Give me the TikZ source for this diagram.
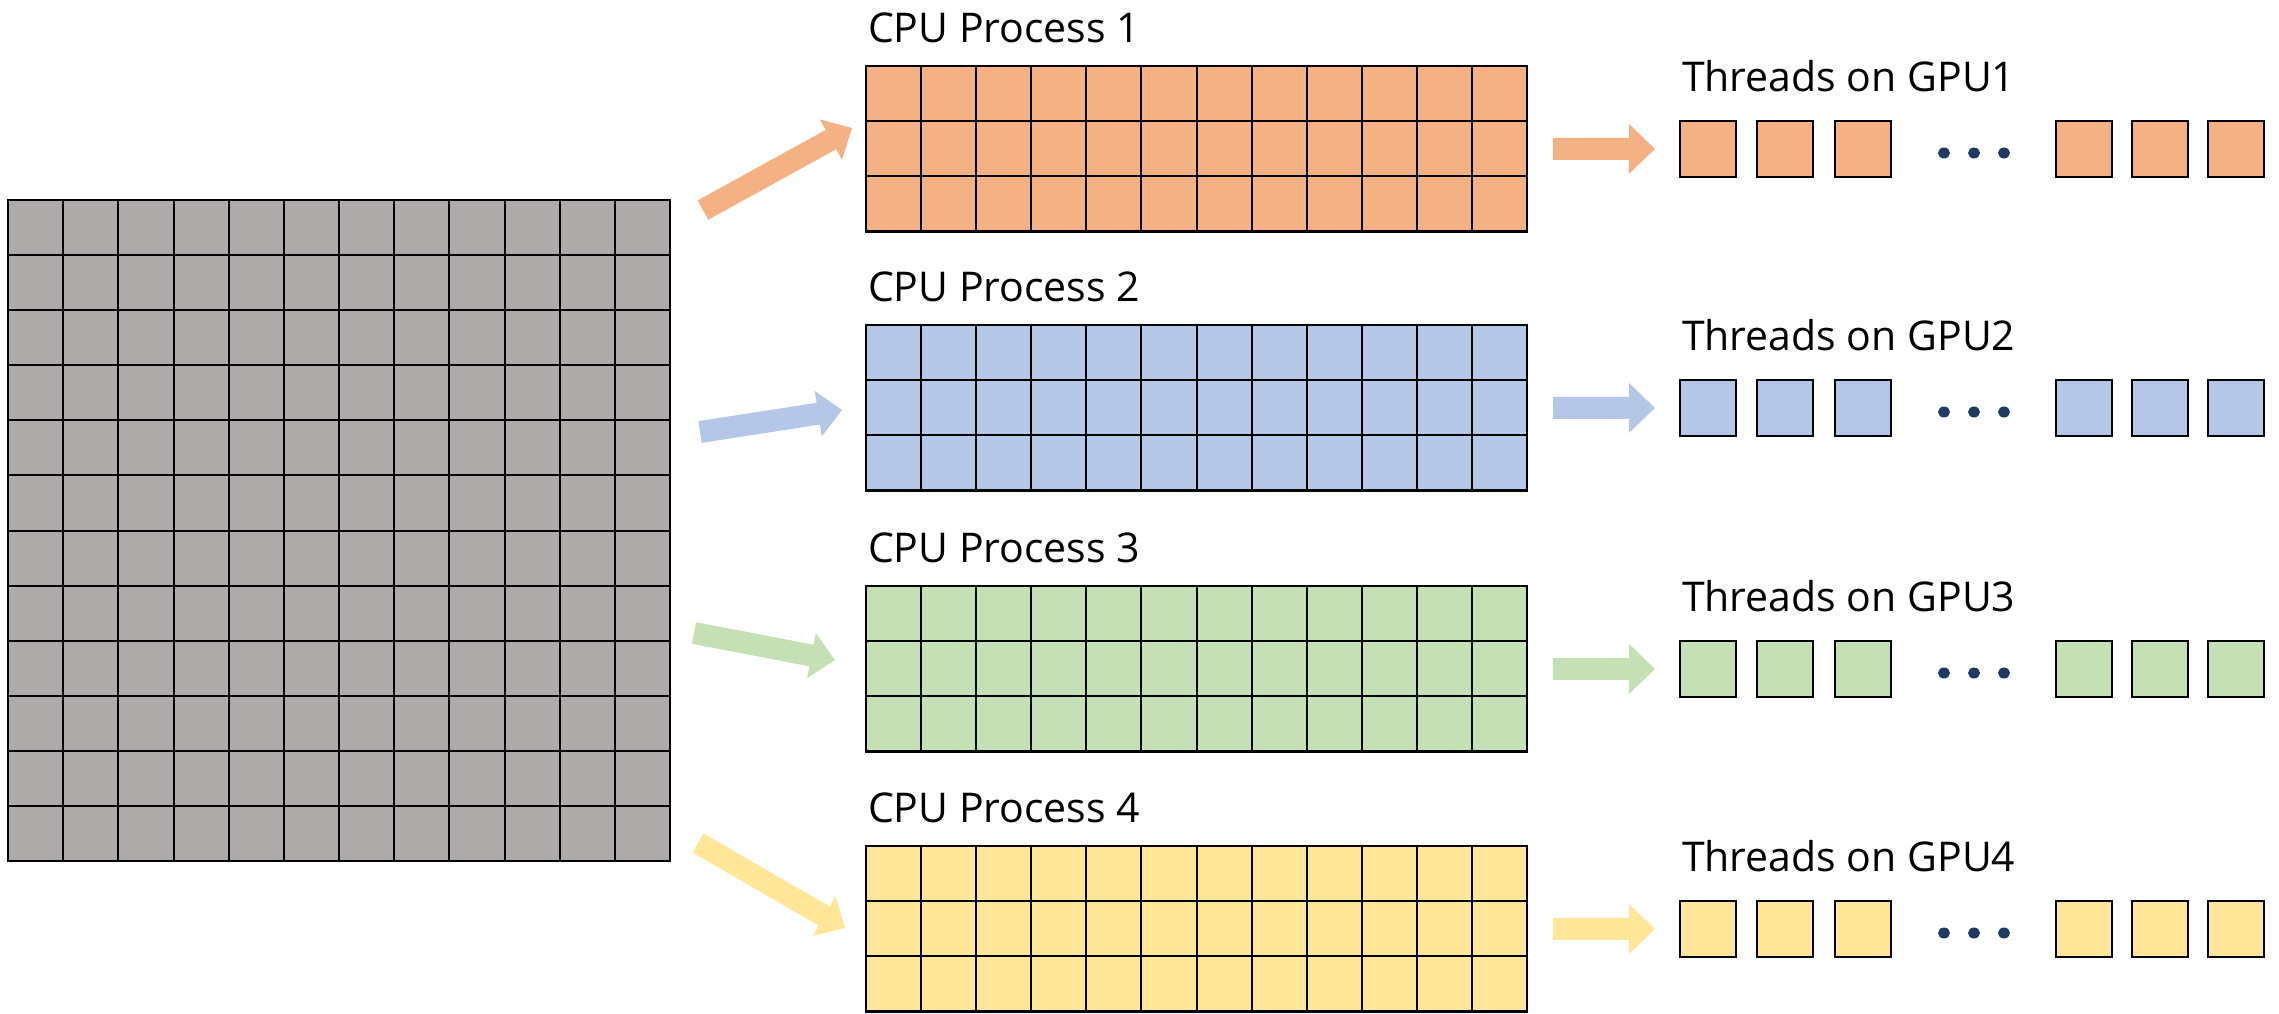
\documentclass[tikz,border=0pt]{standalone}
\usepackage{fontspec}
\setmainfont{Open Sans}
\usetikzlibrary{calc}

\definecolor{cellgray}{HTML}{AEAAAA}
\definecolor{procorange}{HTML}{F4B183}
\definecolor{procblue}{HTML}{B4C7E7}
\definecolor{procgreen}{HTML}{C5E0B4}
\definecolor{procyellow}{HTML}{FFE699}
\definecolor{dotnavy}{HTML}{1F3864}

\tikzset{
  gridline/.style={draw=black, line width=2pt},
  lbl/.style={anchor=base west, inner sep=0pt, outer sep=0pt,
              font=\fontsize{41}{49}\selectfont},
  blockbox/.style={draw=black, line width=2.4pt, inner sep=0pt, outer sep=0pt,
                   anchor=north west},
  thread/.style={draw=black, line width=2pt, minimum size=56pt,
                 inner sep=0pt, outer sep=0pt, anchor=north west},
}

% inner cell lines of a block node: #1 node, #2 columns, #3 rows
\newcommand{\cellgrid}[3]{%
  \pgfmathtruncatemacro{\colsm}{#2-1}%
  \pgfmathtruncatemacro{\rowsm}{#3-1}%
  \foreach \i in {1,...,\colsm}
    \draw[gridline] ($(#1.north west)!\i/#2!(#1.north east)$) --
                    ($(#1.south west)!\i/#2!(#1.south east)$);
  \foreach \i in {1,...,\rowsm}
    \draw[gridline] ($(#1.north west)!\i/#3!(#1.south west)$) --
                    ($(#1.north east)!\i/#3!(#1.south east)$);
}

% flat block arrow: #1 colour, #2 tail, #3 tip,
% #4 half shaft width, #5 half head width, #6 head length
\newcommand{\blockarrow}[6]{%
  \coordinate (hb) at ($(#3)!#6!(#2)$);
  \fill[#1] ($(#2)!#4!90:(#3)$) -- ($(hb)!#4!90:(#3)$) --
            ($(hb)!#5!90:(#3)$) -- (#3) --
            ($(hb)!#5!-90:(#3)$) -- ($(hb)!#4!-90:(#3)$) --
            ($(#2)!#4!-90:(#3)$) -- cycle;
}

\begin{document}
\begin{tikzpicture}[x=1pt,y=-1pt]
\useasboundingbox (0,0) rectangle (2279,1013);

% the full data grid
\node[blockbox, fill=cellgray, minimum width=662pt, minimum height=661pt]
  (src) at (8,200) {};
\cellgrid{src}{12}{12}

% one CPU process block and its GPU threads per row
\foreach \k/\top/\col/\tx/\ty/\hx/\hy in {
    1/66/procorange/703/210/852/128,
    2/325/procblue/700/432/842/410,
    3/586/procgreen/694/633/835/660,
    4/846/procyellow/698/843/845/928} {
  \node[lbl] (cpulab\k) at (868,\top-24) {CPU Process \k};
  \node[blockbox, fill=\col, minimum width=661pt, minimum height=165.5pt]
    (cpu\k) at (866,\top) {};
  \cellgrid{cpu\k}{12}{3}

  \node[lbl] (gpulab\k) at (1682,\top+25) {Threads on GPU\k};
  \foreach \j/\x in {1/1680,2/1757,3/1835,4/2056,5/2132,6/2208}
    \node[thread, fill=\col] (th\k-\j) at (\x,\top+55) {};
  \foreach \d/\x in {1/1944,2/1974,3/2004}
    \fill[dotnavy] (\x,\top+87) circle[x radius=6pt, y radius=5.5pt];

  % split arrow from the data grid to the process block
  \coordinate (dtail\k) at (\tx,\ty);
  \coordinate (dtip\k) at (\hx,\hy);
  \blockarrow{\col}{dtail\k}{dtip\k}{11pt}{23pt}{24pt}

  % arrow from the process block to its threads
  \coordinate (rtail\k) at ($(cpu\k.east)+(26,0)$);
  \coordinate (rtip\k) at ($(th\k-1.west)+(-25,0)$);
  \blockarrow{\col}{rtail\k}{rtip\k}{11pt}{25pt}{26pt}
}
\end{tikzpicture}
\end{document}
